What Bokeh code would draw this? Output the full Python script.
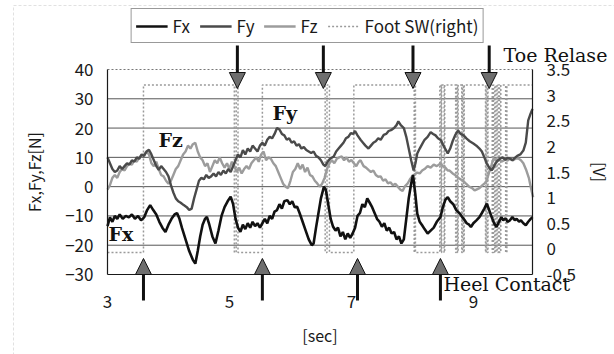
from bokeh.plotting import figure
from bokeh.models import (Range1d, LinearAxis, FixedTicker, Label, Arrow, NormalHead,
                          Legend, LegendItem, BoxAnnotation, CustomJSTickFormatter)
from bokeh.embed import file_html
from bokeh.resources import INLINE

# ---------------- data ----------------
fx_t = [3.00, 3.04, 3.08, 3.12, 3.16, 3.20, 3.25, 3.30, 3.35, 3.40, 3.45, 3.50, 3.55, 3.60, 3.65, 3.70,
        3.75, 3.80, 3.85, 3.90, 3.95, 4.00, 4.05, 4.10, 4.14, 4.18, 4.22, 4.28, 4.34, 4.40, 4.44, 4.48,
        4.52, 4.56, 4.60, 4.63, 4.67, 4.72, 4.77, 4.82, 4.87, 4.92, 4.97, 5.02, 5.06, 5.10, 5.14, 5.18,
        5.22, 5.26, 5.30, 5.34, 5.38, 5.42, 5.46, 5.50, 5.54, 5.58, 5.62, 5.66, 5.70, 5.74, 5.78, 5.82,
        5.86, 5.90, 5.95, 5.99, 6.03, 6.07, 6.11, 6.15, 6.20, 6.25, 6.30, 6.35, 6.38, 6.42, 6.46, 6.50,
        6.55, 6.58, 6.62, 6.66, 6.70, 6.74, 6.78, 6.82, 6.86, 6.90, 6.94, 6.98, 7.02, 7.06, 7.10, 7.14,
        7.18, 7.22, 7.26, 7.30, 7.34, 7.38, 7.42, 7.46, 7.50, 7.54, 7.58, 7.62, 7.66, 7.70, 7.74, 7.78,
        7.82, 7.86, 7.90, 7.94, 7.98, 8.01, 8.05, 8.08, 8.12, 8.16, 8.20, 8.25, 8.30, 8.35, 8.40, 8.46,
        8.50, 8.54, 8.58, 8.62, 8.67, 8.72, 8.78, 8.82, 8.86, 8.89, 8.93, 8.96, 9.00, 9.05, 9.10, 9.14,
        9.18, 9.22, 9.26, 9.30, 9.34, 9.38, 9.42, 9.46, 9.49, 9.53, 9.56, 9.60, 9.64, 9.68, 9.71, 9.75,
        9.78, 9.82, 9.86, 9.90, 9.94, 9.97]
fx_v = [-13.5, -10.5, -12, -10, -11, -9.5, -11, -10, -10.5, -9.5, -11, -10, -11.5, -10.5, -8, -6.3,
        -8, -9.5, -12, -14, -15.5, -13, -11, -9.5, -9, -11, -14, -18, -22, -25, -26.3, -22,
        -17, -13, -11, -10.3, -13, -17, -19.4, -15, -10, -7, -5, -3.4, -6, -11, -14, -15.4,
        -13, -14.5, -12.5, -14, -12, -13.5, -12.5, -14, -12.5, -11, -12.5, -10, -11, -8.5, -8, -6,
        -7.5, -5, -4.6, -6, -5, -7, -6.9, -9, -12, -15, -18, -20, -19.4, -14, -9, -4,
        0, -1, -6, -11, -13.7, -15, -14, -17, -15.5, -18, -16, -17.5, -16, -14, -10, -9,
        -6, -7, -4, -5.5, -7, -9, -11, -12, -13.7, -12.5, -15, -14, -16, -15.5, -18, -17,
        -19.4, -18, -11, -4, 1, 4, -3, -9.2, -12, -13.2, -14.5, -16, -15, -14, -12, -10.4,
        -7, -4.5, -3.6, -5, -6, -8, -9.2, -10.5, -11.5, -12.5, -13, -13.8, -12.5, -11.5, -10.4, -9,
        -7.5, -5.8, -8, -10.4, -12.5, -13.8, -12, -10.4, -11.5, -10.8, -12, -11.5, -10.4, -11.5, -11, -12,
        -11.5, -12.5, -13.2, -12, -11, -10.4]

fy_t = [3.00, 3.04, 3.08, 3.12, 3.16, 3.20, 3.24, 3.28, 3.32, 3.36, 3.40, 3.44, 3.48, 3.52, 3.56, 3.60,
        3.64, 3.68, 3.72, 3.76, 3.80, 3.84, 3.88, 3.92, 3.96, 4.00, 4.04, 4.08, 4.12, 4.16, 4.20, 4.25,
        4.30, 4.34, 4.38, 4.42, 4.46, 4.50, 4.54, 4.58, 4.62, 4.66, 4.70, 4.74, 4.78, 4.82, 4.86, 4.90,
        4.94, 4.98, 5.02, 5.06, 5.10, 5.14, 5.18, 5.22, 5.26, 5.30, 5.34, 5.38, 5.42, 5.46, 5.50, 5.54,
        5.58, 5.62, 5.66, 5.70, 5.74, 5.78, 5.82, 5.86, 5.90, 5.94, 5.98, 6.02, 6.06, 6.10, 6.14, 6.18,
        6.22, 6.26, 6.30, 6.34, 6.38, 6.42, 6.46, 6.50, 6.54, 6.57, 6.61, 6.65, 6.71, 6.75, 6.79, 6.83,
        6.87, 6.91, 6.95, 6.99, 7.03, 7.06, 7.10, 7.15, 7.19, 7.23, 7.28, 7.32, 7.36, 7.40, 7.44, 7.48,
        7.53, 7.57, 7.61, 7.66, 7.70, 7.74, 7.77, 7.81, 7.86, 7.90, 7.94, 7.98, 8.02, 8.05, 8.08, 8.12,
        8.16, 8.20, 8.25, 8.30, 8.34, 8.38, 8.42, 8.47, 8.51, 8.55, 8.58, 8.62, 8.66, 8.70, 8.75, 8.79,
        8.84, 8.89, 8.94, 9.00, 9.05, 9.10, 9.14, 9.18, 9.22, 9.26, 9.30, 9.34, 9.38, 9.44, 9.48, 9.52,
        9.56, 9.60, 9.64, 9.68, 9.72, 9.77, 9.82, 9.86, 9.90, 9.94, 9.97]
fy_v = [10, 8, 6, 5, 5.5, 7, 6, 7, 8, 7.5, 9, 8.5, 10, 9.5, 11, 10.5,
        12, 12.6, 11, 9, 7, 5.7, 7, 6, 5, 3.5, 0.5, -2, -4, -5, -5.5, -6.3,
        -7, -8, -7.5, -4, -1, 2, 3, 2.5, 4, 3, 3.5, 4.5, 3.5, 5, 4, 5.5,
        4.5, 6, 5, 7, 9, 11, 10, 12.5, 11, 13, 12, 14, 13, 12, 14, 15,
        14, 16, 17, 16.5, 18, 20, 19.5, 18, 17.5, 16, 16.5, 15, 15.5, 14, 14.5, 13,
        13.5, 12.5, 12, 11.5, 12, 10.5, 10, 9, 7.5, 7, 8.5, 9.5, 10.3, 12, 13, 14,
        15, 16.5, 17, 18.3, 18, 19, 17.5, 16, 15, 14, 13, 14, 15, 15.5, 16.5, 16,
        17.7, 18, 19, 19.4, 20, 21, 22.3, 21, 20, 17, 13, 9, 5.5, 8, 11.3, 13,
        14.5, 16, 17, 18.6, 18, 17.5, 16.5, 15.8, 14, 12.5, 11.3, 13, 15.5, 17.5, 19.2, 18,
        17.5, 16.4, 15.5, 14.7, 14, 13, 12, 10, 7.9, 6.5, 5.5, 7, 8.5, 9.6, 10, 9.2,
        9.8, 9.6, 9, 9.8, 10.5, 11, 12.3, 15, 22.6, 25, 26.5]

fz_t = [3.00, 3.04, 3.08, 3.12, 3.16, 3.20, 3.24, 3.28, 3.32, 3.36, 3.40, 3.44, 3.48, 3.52, 3.56, 3.60,
        3.64, 3.68, 3.72, 3.76, 3.80, 3.84, 3.88, 3.92, 3.96, 4.00, 4.04, 4.08, 4.12, 4.16, 4.20, 4.24,
        4.28, 4.32, 4.36, 4.40, 4.44, 4.48, 4.52, 4.56, 4.60, 4.64, 4.68, 4.72, 4.76, 4.80, 4.84, 4.88,
        4.92, 4.96, 5.00, 5.04, 5.08, 5.12, 5.16, 5.20, 5.24, 5.28, 5.32, 5.36, 5.40, 5.44, 5.48, 5.52,
        5.56, 5.60, 5.64, 5.68, 5.72, 5.76, 5.80, 5.84, 5.88, 5.92, 5.96, 6.00, 6.04, 6.08, 6.12, 6.16,
        6.20, 6.24, 6.28, 6.32, 6.36, 6.40, 6.44, 6.48, 6.52, 6.56, 6.60, 6.64, 6.68, 6.72, 6.76, 6.80,
        6.84, 6.88, 6.92, 6.96, 7.00, 7.04, 7.08, 7.12, 7.15, 7.20, 7.24, 7.28, 7.32, 7.36, 7.40, 7.44,
        7.48, 7.52, 7.56, 7.60, 7.64, 7.68, 7.72, 7.76, 7.80, 7.84, 7.88, 7.92, 7.96, 8.00, 8.04, 8.08,
        8.12, 8.16, 8.20, 8.25, 8.30, 8.35, 8.40, 8.46, 8.50, 8.54, 8.58, 8.61, 8.66, 8.70, 8.75, 8.79,
        8.83, 8.88, 8.93, 8.98, 9.02, 9.05, 9.10, 9.15, 9.19, 9.22, 9.26, 9.30, 9.33, 9.37, 9.42, 9.47,
        9.52, 9.56, 9.60, 9.65, 9.70, 9.74, 9.78, 9.82, 9.87, 9.91, 9.94, 9.98]
fz_v = [-1, 0.5, 3, 4, 3, 5, 6, 5.5, 7, 8, 7.5, 9, 8.5, 10, 10.5, 11,
        12, 11, 8, 7, 8.5, 6, 4, 3.5, 2, 1, 2, 4, 6, 7, 9, 11,
        12, 14, 13, 14.5, 15, 12, 10, 9, 7, 8, 5, 7, 9, 8, 10, 8,
        6.5, 8, 6, 8.5, 7, 5, 6.5, 4.5, 6, 7, 6, 8, 9, 10, 8.5, 11,
        12, 9, 10, 9.5, 8, 7, 5, 3, 1, 0, -0.5, 2, 5, 6, 8, 6,
        7.5, 5, 6.5, 4, 3.5, 2, 1.1, 0, 1, 3, 6, 8, 9, 8, 9.5, 10,
        10.3, 9, 10, 8.5, 9.1, 8, 7, 8.5, 9, 7, 6.5, 5.7, 5, 5.5, 4, 3.4,
        3.5, 2, 2.5, 1.1, 1.5, 0.5, 1, 0, -1, -1.5, 0.2, 1, 2.5, 3.6, 4.2, 4.8,
        4.5, 5.5, 6, 7, 6.5, 7.5, 7, 7.9, 7, 6.5, 5.5, 5.5, 4.5, 4, 3, 2.5,
        2.1, 1, 0, -0.5, -1.3, -1, -0.5, 0.5, 1.2, 2.1, 5, 7.5, 9.6, 9, 9.3, 8.6,
        9.2, 8.9, 9.5, 9, 9.6, 9.6, 9, 8, 5.5, 3, 0, -3.6]

# foot switch (right) [V]: level holds from each edge time to the next
sw_edges = [3.00, 3.59, 5.08, 5.11, 5.14, 5.54, 6.57, 6.60, 6.64, 7.04, 8.03, 8.04, 8.05, 8.45,
            8.47, 8.48, 8.52, 8.53, 8.71, 8.72, 8.74, 8.75, 8.81, 8.82, 8.84, 8.85, 9.20, 9.21,
            9.23, 9.24, 9.31, 9.33, 9.35, 9.37, 9.39, 9.41, 9.43, 9.45, 9.53, 9.55, 9.97]
sw_levels = [-0.07, 3.2, -0.07, 3.2, -0.07, 3.2, -0.07, 3.2, -0.07, 3.2, -0.07, 3.2, -0.07, 3.2,
             -0.07, 3.2, -0.07, 3.2, -0.07, 3.2, -0.07, 3.2, -0.07, 3.2, -0.07, 3.2, -0.07, 3.2,
             -0.07, 3.2, -0.07, 3.2, -0.07, 3.2, -0.07, 3.2, -0.07, 3.2, -0.07, 3.2, 3.2]

toe_release_t = [5.13, 6.54, 8.01, 9.26]
heel_contact_t = [3.59, 5.54, 7.10, 8.46]

x_ticks = [3, 5, 7, 9]
left_ticks = [-30, -20, -10, 0, 10, 20, 30, 40]
grid_ticks = [-20, -10, 0, 10, 20, 30]
right_ticks = [-0.5, 0, 0.5, 1, 1.5, 2, 2.5, 3, 3.5]
series_names = ["Fx", "Fy", "Fz", "Foot SW(right)"]

# ---------------- layout (pixels) ----------------
W, H = 614, 354
X_MIN, X_MAX = 3, 9.97
Y_MIN, Y_MAX = -30, 40
V_MIN, V_MAX = -0.5, 3.5
PX_L, PX_R, PX_T, PX_B = 107, 532, 69, 274

dx = (X_MAX - X_MIN) / (PX_R - PX_L)
dy = (Y_MAX - Y_MIN) / (PX_B - PX_T)
dv = (V_MAX - V_MIN) / (PX_B - PX_T)
x_lo, x_hi = X_MIN - PX_L * dx, X_MAX + (W - PX_R) * dx
y_lo, y_hi = Y_MIN - (H - PX_B) * dy, Y_MAX + PX_T * dy
v_lo, v_hi = V_MIN - (H - PX_B) * dv, V_MAX + PX_T * dv

def X(px):
    return x_lo + px * dx

def Y(py):
    return y_hi - py * dy

SANS = "Noto Sans CJK JP"
SERIF = "DejaVu Serif"
INK = "#1a1a1a"

p = figure(width=W, height=H, output_backend="svg", toolbar_location=None,
           x_range=Range1d(x_lo, x_hi), y_range=Range1d(y_lo, y_hi),
           x_axis_location=None, y_axis_location=None,
           min_border_left=0, min_border_right=0, min_border_top=0, min_border_bottom=0)
p.outline_line_color = None
p.background_fill_color = "white"
p.border_fill_color = "white"
p.grid.visible = False
p.extra_y_ranges = {"v": Range1d(v_lo, v_hi)}

def style_axis(ax):
    ax.major_tick_out = 0
    ax.major_tick_in = 0
    ax.minor_tick_out = 0
    ax.minor_tick_in = 0
    ax.axis_line_color = INK
    ax.axis_line_width = 1.2
    ax.major_label_text_font = SANS
    ax.major_label_text_font_size = "17px"
    ax.major_label_text_color = INK
    ax.axis_label_text_font = SANS
    ax.axis_label_text_font_style = "normal"
    ax.axis_label_text_font_size = "16px"
    ax.axis_label_text_color = INK

xa = LinearAxis(fixed_location=Y_MIN, bounds=(X_MIN, X_MAX))
style_axis(xa)
xa.ticker = FixedTicker(ticks=x_ticks)
xa.major_label_standoff = 20
xa.axis_label = "[sec]"
xa.axis_label_standoff = 12
p.add_layout(xa, "below")

ya = LinearAxis(fixed_location=X_MIN, bounds=(Y_MIN, Y_MAX))
style_axis(ya)
ya.ticker = FixedTicker(ticks=left_ticks)
ya.major_label_standoff = 14
ya.axis_label = "Fx,Fy,Fz[N]"
ya.axis_label_standoff = 16
p.add_layout(ya, "left")

ra = LinearAxis(y_range_name="v", fixed_location=X_MAX, bounds=(V_MIN, V_MAX))
style_axis(ra)
ra.ticker = FixedTicker(ticks=right_ticks)
ra.formatter = CustomJSTickFormatter(code="return tick.toString()")
ra.major_label_standoff = 14
ra.axis_label = "[V]"
ra.axis_label_standoff = 9
p.add_layout(ra, "right")

# outer chart border
p.add_layout(BoxAnnotation(left=13, right=W + 50, top=5, bottom=H + 50,
                           left_units="canvas", right_units="canvas",
                           top_units="canvas", bottom_units="canvas",
                           fill_alpha=0, line_color="#9a9a9a", line_dash="3 2", line_width=1))

# horizontal grid and dotted top edge of the plot area
n = len(grid_ticks)
p.segment(x0=[X_MIN] * n, x1=[X_MAX] * n, y0=grid_ticks, y1=grid_ticks,
          line_color="#555555", line_width=1)
p.segment(x0=[X_MIN], x1=[X_MAX], y0=[Y_MAX], y1=[Y_MAX],
          line_color="#777777", line_width=1, line_dash="2 2")

r_sw = p.step(x=sw_edges, y=sw_levels, mode="after", y_range_name="v",
              line_color="#9a9a9a", line_width=1.5, line_dash="2 2")
r_fz = p.line(fz_t, fz_v, line_color="#9c9c9c", line_width=2.4)
r_fy = p.line(fy_t, fy_v, line_color="#4a4a4a", line_width=2.4)
r_fx = p.line(fx_t, fx_v, line_color="#111111", line_width=2.6)

legend = Legend(items=[LegendItem(label=series_names[0], renderers=[r_fx]),
                       LegendItem(label=series_names[1], renderers=[r_fy]),
                       LegendItem(label=series_names[2], renderers=[r_fz]),
                       LegendItem(label=series_names[3], renderers=[r_sw])],
                orientation="horizontal", location="top_center",
                label_text_font=SANS, label_text_font_size="17px", label_text_color=INK,
                glyph_width=32, glyph_height=16, label_standoff=5, spacing=7,
                padding=4, margin=8, border_line_color="#333333", border_line_width=1,
                background_fill_color="white", background_fill_alpha=1)
p.add_layout(legend)

# event arrows
TOE_TAIL, TOE_TIP = 45, 88
HEEL_TAIL, HEEL_TIP = 300, 258
for t in toe_release_t:
    p.add_layout(Arrow(end=NormalHead(size=16, fill_color="#6e6e6e", line_color="#111111", line_width=1),
                       x_start=t, y_start=Y(TOE_TAIL), x_end=t, y_end=Y(TOE_TIP),
                       line_color="#111111", line_width=3))
for t in heel_contact_t:
    p.add_layout(Arrow(end=NormalHead(size=16, fill_color="#6e6e6e", line_color="#111111", line_width=1),
                       x_start=t, y_start=Y(HEEL_TAIL), x_end=t, y_end=Y(HEEL_TIP),
                       line_color="#111111", line_width=3))

p.add_layout(Label(x=X(503), y=Y(54), text="Toe Relase", text_font=SERIF,
                   text_font_size="19px", text_color="#111111", text_baseline="alphabetic"))
p.add_layout(Label(x=X(443), y=Y(283), text="Heel Contact", text_font=SERIF,
                   text_font_size="19px", text_color="#111111", text_baseline="alphabetic"))

for txt, lx, ly in [("Fy", 272, 112), ("Fz", 158, 139), ("Fx", 108, 233)]:
    p.add_layout(Label(x=X(lx), y=Y(ly), text=txt, text_font=SERIF, text_font_style="bold",
                       text_font_size="19px", text_color="#111111", text_baseline="alphabetic"))

open("out.html", "w").write(file_html(p, INLINE))
